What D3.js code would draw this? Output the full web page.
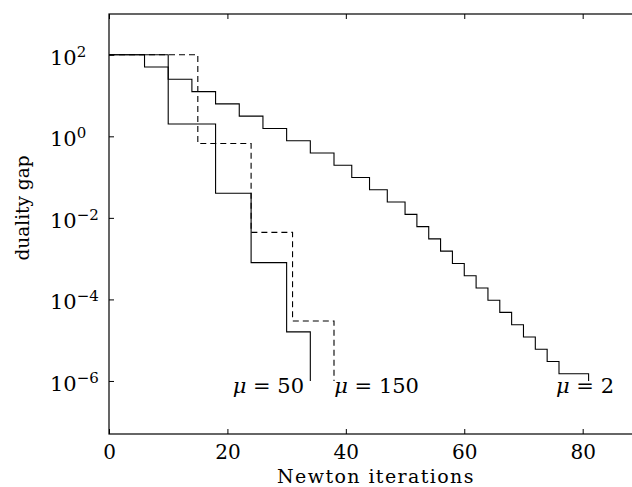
<!DOCTYPE html>
<html>
<head>
<meta charset="utf-8">
<script src="https://cdn.jsdelivr.net/npm/d3@7"></script>
<style>
  body { margin: 0; background: #fff; }
  svg text { font-family: "DejaVu Serif", serif; fill: #000; }
</style>
</head>
<body>
<div id="viz"></div>
<script>
// cumulative Newton iterations at each outer step, and the duality gap held from there on
const iters2 = [0, 6, 10, 14, 18, 22, 26, 30, 34, 38, 41, 44, 47, 50, 52, 54, 56, 58, 60, 62, 64, 66, 68, 70, 72, 74, 76, 81];
const gap2 = [100, 50, 25, 12.5, 6.25, 3.13, 1.56, 0.78, 0.39, 0.195, 0.098, 0.049, 0.0244, 0.0122,
              0.0061, 0.00305, 0.00153, 7.6e-4, 3.8e-4, 1.9e-4, 9.5e-5, 4.8e-5, 2.4e-5, 1.2e-5,
              6e-6, 3e-6, 1.5e-6, 1e-6];
const iters50 = [0, 10, 18, 24, 30, 34];
const gap50 = [100, 2, 0.04, 8e-4, 1.6e-5, 1e-6];
const iters150 = [0, 15, 24, 31, 38];
const gap150 = [100, 0.667, 0.0044, 2.96e-5, 1e-6];

const seriesLabels = ['μ', 'μ', 'μ'];
const seriesMu = ['2', '50', '150'];
const labelIter = [75.5, 20.9, 38.05];   // where each label starts, in iterations
const labelGap = 1e-6;

const xTicks = [0, 20, 40, 60, 80];
const yTickExps = [2, 0, -2, -4, -6];

var width = 632, height = 487,
    margin = { top: 14, left: 109 },
    plotH = 420,
    pxPerIter = 5.921;

var svg = d3.select('#viz').append('svg')
  .attr('width', width)
  .attr('height', height);

var x = d3.scaleLinear()
  .domain([0, 90])
  .range([margin.left, margin.left + 90 * pxPerIter]);

var y = d3.scaleLog()
  .domain([5e-8, 1e3])
  .range([margin.top + plotH, margin.top]);

// frame
svg.append('rect')
  .attr('x', x(0)).attr('y', y(1e3))
  .attr('width', x(90) - x(0)).attr('height', y(5e-8) - y(1e3))
  .attr('fill', 'none').attr('stroke', '#000').attr('stroke-width', 1.2);

// ticks (inward), bottom and top
var xAxis = svg.append('g')
  .attr('transform', 'translate(0,' + y(5e-8) + ')')
  .call(d3.axisBottom(x).tickValues(xTicks).tickSizeInner(-5).tickSizeOuter(0).tickPadding(11));
xAxis.select('.domain').remove();
xAxis.selectAll('text')
  .attr('font-family', '"DejaVu Serif", serif')
  .attr('font-size', 20);

var xTop = svg.append('g')
  .attr('transform', 'translate(0,' + y(1e3) + ')')
  .call(d3.axisTop(x).tickValues(xTicks).tickSizeInner(-5).tickSizeOuter(0).tickFormat(''));
xTop.select('.domain').remove();

var yVals = yTickExps.map(function(e) { return Math.pow(10, e); });
var yAxis = svg.append('g')
  .attr('transform', 'translate(' + x(0) + ',0)')
  .call(d3.axisLeft(y).tickValues(yVals).tickSizeInner(-5).tickSizeOuter(0).tickFormat(''));
yAxis.select('.domain').remove();

svg.selectAll('line').attr('stroke', '#000');

// y tick labels 10^k
yTickExps.forEach(function(e) {
  var t = svg.append('text')
    .attr('x', 50)
    .attr('y', y(Math.pow(10, e)) + 10)
    .attr('font-size', 21);
  t.append('tspan').text('10');
  t.append('tspan')
    .attr('dy', -8)
    .attr('font-size', 15)
    .text(e < 0 ? '\u2212' + (-e) : String(e));
});

// curves
var line = d3.line()
  .x(function(d) { return x(d[0]); })
  .y(function(d) { return y(d[1]); })
  .curve(d3.curveStepAfter);

var series = [
  { it: iters2, gap: gap2, dash: null },
  { it: iters50, gap: gap50, dash: null },
  { it: iters150, gap: gap150, dash: '6,4' }
];

series.forEach(function(s) {
  svg.append('path')
    .datum(d3.zip(s.it, s.gap))
    .attr('d', line)
    .attr('fill', 'none')
    .attr('stroke', '#000')
    .attr('stroke-width', 1.1)
    .attr('stroke-dasharray', s.dash);
});

// curve labels
seriesMu.forEach(function(m, i) {
  var t = svg.append('text')
    .attr('x', x(labelIter[i]))
    .attr('y', y(labelGap) + 12)
    .attr('font-size', 21);
  t.append('tspan').attr('font-style', 'italic').text(seriesLabels[i]);
  t.append('tspan').text(' = ' + m);
});

// axis titles
svg.append('text')
  .attr('x', 376).attr('y', 482.5)
  .attr('text-anchor', 'middle')
  .attr('font-size', 19)
  .attr('letter-spacing', 1.4)
  .text('Newton iterations');

svg.append('text')
  .attr('transform', 'translate(29,208) rotate(-90)')
  .attr('text-anchor', 'middle')
  .attr('font-size', 18.5)
  .text('duality gap');
</script>
</body>
</html>
